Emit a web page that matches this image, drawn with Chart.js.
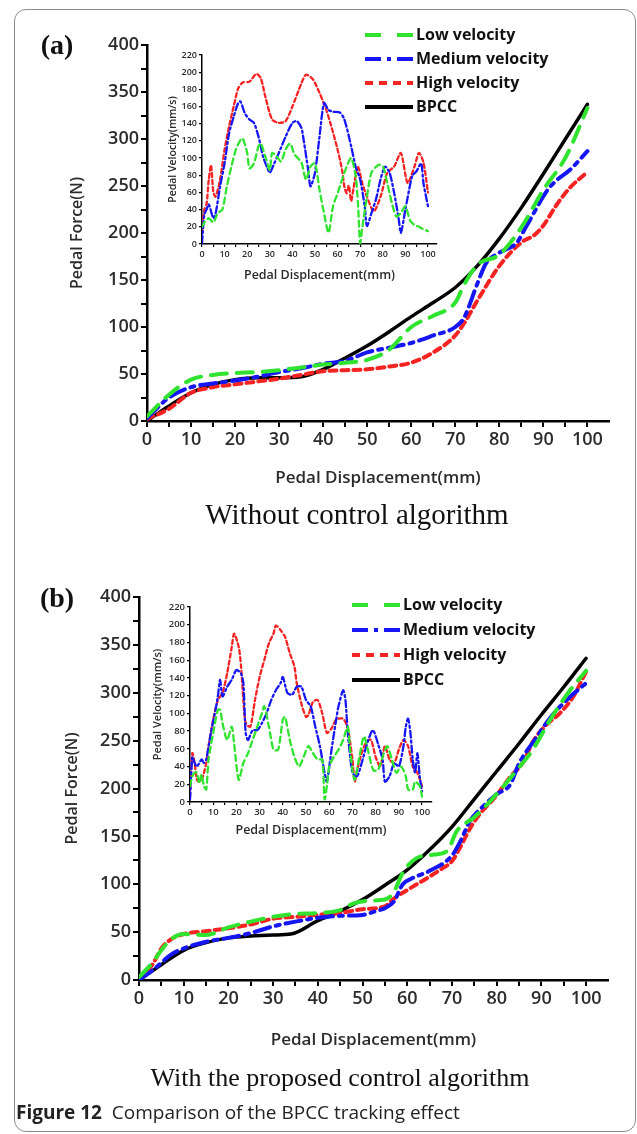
<!DOCTYPE html>
<html>
<head>
<meta charset="utf-8">
<script src="https://cdn.jsdelivr.net/npm/chart.js@4.4.1/dist/chart.umd.min.js"></script>
<style>
    body { margin: 0; background: #fff; }
    #page { position: relative; width: 637px; height: 1134px; overflow: hidden; }
    #frame { position: absolute; left: 14px; top: 9px; width: 620px; height: 1121px; border: 1.5px solid #8c8c8c; border-radius: 12px; }
    canvas { position: absolute; left: 0; top: 0; }
    .txt { position: absolute; transform: translate(-50%, -50%); white-space: nowrap; color: #111; }
    .tag { font: bold 28px "Liberation Serif"; }
    .cap { font: 26px "Liberation Serif"; }
    #fig { position: absolute; left: 16px; top: 1099px; font: 19px "Open Sans"; color: #222; white-space: nowrap; }
</style>
</head>
<body>
<div id="page">
    <div id="frame"></div>
    <canvas id="mainA" width="637" height="1134"></canvas>
    <canvas id="insetA" width="637" height="1134"></canvas>
    <canvas id="mainB" width="637" height="1134"></canvas>
    <canvas id="insetB" width="637" height="1134"></canvas>
    <div class="txt tag" style="left:57px; top:45px;">(a)</div>
    <div class="txt cap" style="left:357px; top:514px; font-size:29px;">Without control algorithm</div>
    <div class="txt tag" style="left:57px; top:598px;">(b)</div>
    <div class="txt cap" style="left:340px; top:1078px;">With the proposed control algorithm</div>
    <div id="fig"><b>Figure 12</b>&nbsp; Comparison of the BPCC tracking effect</div>
</div>
<script>
// 시리즈 이름
const seriesNames = ['Low velocity', 'Medium velocity', 'High velocity', 'BPCC'];

// (a) 제어 없음 - 페달 변위(mm) / 페달 힘(N)
const aLowX  = [0, 5, 10, 15, 20, 25, 30, 35, 40, 45, 50, 55, 60, 65, 70, 72, 75, 80, 85, 90, 95, 100];
const aLowY  = [5, 28, 44, 49, 51, 52, 54, 57, 60, 62, 65, 76, 100, 112, 126, 145, 166, 177, 206, 246, 280, 333];
const aMedX  = [0, 5, 10, 15, 20, 25, 30, 35, 40, 45, 50, 55, 60, 65, 70, 72, 75, 77, 80, 84, 86, 91, 93, 96, 100];
const aMedY  = [3, 25, 36, 40, 43, 47, 52, 56, 61, 64, 73, 78, 83, 91, 100, 110, 146, 168, 179, 190, 206, 246, 256, 267, 287];
const aHighX = [0, 5, 10, 15, 20, 25, 30, 35, 40, 45, 50, 55, 60, 65, 70, 72, 75, 80, 85, 88, 90, 93, 96, 100];
const aHighY = [2, 13, 30, 36, 39, 42, 45, 49, 53, 54, 55, 58, 62, 73, 91, 104, 128, 165, 190, 198, 208, 230, 248, 265];
const aBpccX = [0, 5, 10, 15, 20, 25, 30, 35, 40, 45, 50, 55, 60, 65, 70, 75, 80, 85, 90, 95, 100];
const aBpccY = [0, 16, 30, 39, 44, 46, 46, 47, 55, 67, 80, 95, 111, 126, 142, 165, 194, 227, 263, 300, 337];

// (a) 삽입 그래프 - 페달 속도(mm/s)
const aVelLowX  = [0, 1, 3, 5, 7, 9, 11, 13, 15, 17, 18, 20, 21, 23, 25, 26, 28, 30, 31, 33, 35, 37, 39, 41, 44, 46, 48, 50, 52, 54, 56, 58, 60, 62, 64, 66, 68, 69, 70, 71, 73, 75, 78, 80, 82, 84, 86, 88, 90, 92, 94, 96, 98, 100];
const aVelLowY  = [20, 25, 30, 25, 36, 40, 67, 90, 110, 121, 123, 106, 88, 94, 114, 117, 102, 86, 106, 102, 96, 110, 117, 104, 95, 75, 90, 94, 63, 36, 13, 44, 59, 75, 90, 100, 79, 48, 1, 20, 55, 83, 92, 91, 71, 48, 32, 36, 44, 28, 22, 20, 17, 15];
const aVelMedX  = [0, 1, 2, 3, 5, 6, 8, 10, 12, 14, 16, 17, 19, 21, 23, 25, 27, 29, 30, 32, 34, 37, 40, 42, 44, 45, 47, 48, 50, 52, 54, 56, 58, 61, 63, 66, 68, 70, 72, 73, 75, 77, 79, 81, 83, 85, 87, 88, 90, 93, 95, 97, 98, 100];
const aVelMedY  = [1, 34, 40, 46, 30, 35, 67, 94, 129, 148, 164, 166, 152, 145, 141, 125, 102, 88, 83, 94, 106, 125, 141, 143, 135, 121, 86, 67, 83, 125, 164, 156, 154, 153, 145, 114, 90, 75, 44, 21, 36, 52, 75, 90, 83, 60, 30, 13, 40, 79, 85, 94, 71, 44];
const aVelHighX = [0, 1, 2, 3, 4, 5, 6, 8, 10, 12, 14, 16, 18, 21, 24, 26, 28, 31, 34, 37, 40, 44, 46, 49, 52, 55, 57, 60, 62, 63, 64, 65, 66, 67, 69, 71, 73, 76, 79, 82, 85, 88, 91, 94, 96, 98, 100];
const aVelHighY = [13, 40, 46, 75, 92, 61, 55, 75, 110, 137, 160, 181, 188, 189, 198, 193, 172, 145, 141, 143, 160, 187, 197, 192, 176, 156, 139, 110, 86, 67, 59, 68, 50, 64, 90, 70, 55, 38, 55, 83, 90, 106, 71, 90, 106, 95, 60];

// (b) 제안 제어 알고리즘 - 페달 변위(mm) / 페달 힘(N)
const bLowX  = [0, 3, 5, 7, 10, 15, 20, 25, 30, 35, 40, 45, 48, 52, 55, 57, 59, 62, 66, 69, 71, 75, 78, 82, 85, 88, 92, 96, 100];
const bLowY  = [3, 18, 31, 42, 48, 47, 55, 61, 66, 69, 70, 73, 80, 83, 84, 92, 112, 127, 131, 135, 155, 170, 184, 205, 222, 240, 272, 300, 323];
const bMedX  = [0, 3, 5, 7, 10, 15, 20, 25, 30, 35, 40, 45, 50, 53, 55, 57, 59, 61, 65, 70, 72, 74, 76, 80, 83, 85, 89, 92, 96, 100];
const bMedY  = [0, 10, 18, 26, 33, 40, 44, 49, 56, 61, 65, 67, 68, 72, 75, 82, 100, 106, 114, 130, 146, 166, 177, 194, 204, 226, 254, 274, 294, 310];
const bHighX = [0, 3, 5, 7, 10, 15, 20, 25, 30, 35, 40, 45, 50, 55, 57, 60, 65, 68, 70, 72, 74, 76, 80, 83, 86, 88, 91, 94, 97, 100];
const bHighY = [2, 16, 33, 42, 48, 51, 54, 58, 64, 66, 68, 70, 74, 77, 85, 94, 108, 117, 124, 140, 158, 172, 193, 212, 228, 248, 266, 278, 295, 322];
const bBpccX = [0, 5, 10, 15, 20, 25, 30, 34, 40, 45, 50, 55, 60, 65, 70, 75, 80, 85, 90, 95, 100];
const bBpccY = [0, 16, 31, 39, 44, 46, 47, 48, 62, 72, 84, 99, 115, 136, 160, 189, 218, 247, 277, 306, 336];

// (b) 삽입 그래프 - 페달 속도(mm/s)
const bVelLowX  = [0, 1, 2, 3, 4, 5, 6, 7, 8, 10, 12, 13, 14, 16, 18, 19, 21, 23, 25, 27, 29, 31, 32, 34, 36, 38, 40, 41, 43, 45, 47, 49, 51, 53, 55, 57, 58, 59, 60, 62, 64, 66, 68, 69, 70, 71, 73, 75, 77, 79, 81, 83, 85, 87, 89, 91, 93, 94, 96, 97, 99, 100];
const bVelLowY  = [18, 29, 33, 33, 21, 31, 18, 14, 48, 78, 104, 104, 89, 70, 85, 66, 25, 44, 55, 70, 85, 100, 108, 85, 59, 59, 93, 96, 70, 51, 40, 51, 63, 55, 48, 48, 3, 18, 40, 51, 59, 70, 85, 59, 36, 25, 51, 74, 55, 36, 36, 51, 63, 48, 33, 40, 29, 14, 14, 23, 18, 6];
const bVelMedX  = [0, 1, 2, 3, 5, 6, 7, 9, 11, 12, 13, 14, 16, 18, 20, 22, 23, 24, 25, 27, 29, 31, 33, 35, 37, 39, 40, 42, 44, 46, 48, 50, 52, 54, 56, 58, 59, 61, 63, 64, 66, 67, 68, 70, 72, 74, 76, 78, 79, 81, 83, 84, 86, 88, 90, 92, 93, 94, 95, 96, 97, 98, 99, 100];
const bVelMedY  = [3, 51, 44, 40, 48, 44, 48, 78, 104, 119, 138, 119, 130, 138, 149, 145, 134, 78, 70, 81, 81, 89, 100, 115, 126, 134, 141, 123, 121, 130, 130, 115, 108, 85, 63, 33, 23, 59, 93, 108, 126, 115, 78, 33, 29, 44, 63, 78, 81, 66, 48, 23, 29, 44, 40, 63, 85, 94, 78, 48, 33, 55, 29, 12];
const bVelHighX = [0, 1, 2, 3, 4, 5, 6, 7, 8, 10, 12, 14, 16, 18, 19, 21, 22, 23, 24, 26, 28, 30, 32, 34, 36, 37, 39, 41, 43, 45, 46, 48, 50, 51, 53, 55, 57, 59, 61, 63, 66, 68, 70, 71, 72, 74, 76, 78, 80, 82, 84, 86, 88, 90, 92, 94, 96, 98, 100];
const bVelHighY = [6, 55, 44, 25, 23, 25, 33, 44, 63, 93, 115, 123, 145, 175, 190, 175, 153, 115, 89, 85, 115, 141, 160, 179, 190, 199, 194, 186, 168, 153, 134, 111, 96, 98, 113, 115, 100, 78, 83, 93, 94, 83, 48, 23, 36, 55, 68, 70, 51, 40, 63, 48, 44, 59, 70, 63, 40, 33, 18];

// 시리즈 스타일
const seriesColors = ['#2fe32f', '#1616f4', '#f62323', '#000000'];
const mainDash = [[16, 10], [16, 6, 4, 6], [7, 5], []];
const insetDash = [[6, 4], [7, 3, 2, 3], [4, 3], []];

function toPoints(xs, ys) {
    return xs.map((x, i) => ({ x: x, y: ys[i] }));
}

function makeSets(list, dashes, width, tension) {
    return list.map((pair, i) => ({
        label: seriesNames[i],
        data: toPoints(pair[0], pair[1]),
        borderColor: seriesColors[i],
        borderWidth: i === 3 ? width - 0.5 : width,
        borderDash: dashes[i],
        borderCapStyle: 'round',
        tension: tension,
        cubicInterpolationMode: tension > 0.35 ? 'monotone' : 'default',
        pointRadius: 0,
        fill: false
    }));
}

// 범례 (차트 위에 직접 그림)
const sideLegend = {
    id: 'sideLegend',
    afterDraw(chart, args, o) {
        if (!o || o.x === undefined) return;
        const ctx = chart.ctx;
        chart.data.datasets.forEach((ds, i) => {
            const y = o.y + i * o.gap;
            ctx.save();
            ctx.strokeStyle = ds.borderColor;
            ctx.lineWidth = 4;
            ctx.lineCap = 'butt';
            ctx.setLineDash(o.dash[i]);
            ctx.beginPath();
            ctx.moveTo(o.x, y);
            ctx.lineTo(o.x + o.len, y);
            ctx.stroke();
            ctx.setLineDash([]);
            ctx.fillStyle = '#111';
            ctx.font = 'bold 16px "Open Sans"';
            ctx.textBaseline = 'middle';
            ctx.fillText(ds.label, o.x + o.len + 3, y);
            ctx.restore();
        });
    }
};

// 차트 생성 (차트 영역 위치를 고정)
function buildChart(id, c) {
    const W = 637, H = 1134;
    return new Chart(document.getElementById(id), {
        type: 'line',
        data: { datasets: c.datasets },
        options: {
            responsive: false,
            animation: false,
            events: [],
            layout: {
                autoPadding: false,
                padding: { left: c.padLeft, top: c.area.top, right: W - c.area.right, bottom: H - c.xBottom }
            },
            plugins: {
                legend: { display: false },
                tooltip: { enabled: false },
                sideLegend: c.legend || {}
            },
            scales: {
                x: {
                    type: 'linear',
                    min: 0,
                    max: c.xMax,
                    afterFit: s => { s.height = c.xBottom - c.area.bottom; },
                    border: { color: '#000', width: c.axisWidth },
                    grid: { drawOnChartArea: false, color: '#000', tickColor: '#000', tickLength: c.tickLen, lineWidth: c.axisWidth * 0.8 },
                    ticks: {
                        stepSize: 5,
                        includeBounds: false,
                        autoSkip: false,
                        maxRotation: 0,
                        padding: 2,
                        color: '#2b2b2b',
                        font: { family: 'Open Sans', size: c.tickSize, weight: '600' },
                        callback: v => (v % 10 === 0 && v <= 100) ? v : ''
                    },
                    title: {
                        display: true,
                        text: 'Pedal Displacement(mm)',
                        padding: 0,
                        color: '#2b2b2b',
                        font: { family: 'Open Sans', size: c.xTitleSize, weight: '600' }
                    }
                },
                y: {
                    min: 0,
                    max: c.yMax,
                    afterFit: s => { s.width = c.area.left - c.padLeft; },
                    border: { color: '#000', width: c.axisWidth },
                    grid: { drawOnChartArea: false, color: '#000', tickColor: '#000', tickLength: c.tickLen, lineWidth: c.axisWidth * 0.8 },
                    ticks: {
                        stepSize: c.yStep,
                        autoSkip: false,
                        padding: 2,
                        color: '#2b2b2b',
                        font: { family: 'Open Sans', size: c.tickSize, weight: '600' },
                        callback: v => (v % c.yLabelStep === 0) ? v : ''
                    },
                    title: {
                        display: true,
                        text: c.yTitle,
                        padding: 0,
                        color: '#2b2b2b',
                        font: { family: 'Open Sans', size: c.yTitleSize, weight: '600' }
                    }
                }
            }
        },
        plugins: [sideLegend]
    });
}

document.addEventListener('DOMContentLoaded', function() {
    // (a) 메인
    buildChart('mainA', {
        datasets: makeSets([[aLowX, aLowY], [aMedX, aMedY], [aHighX, aHighY], [aBpccX, aBpccY]], mainDash, 4, 0.4),
        area: { left: 147, top: 45, right: 609, bottom: 421 },
        padLeft: 68, xBottom: 488, xMax: 104.9, yMax: 400, yStep: 25, yLabelStep: 50,
        axisWidth: 2.5, tickLen: 6, tickSize: 18, xTitleSize: 17, yTitleSize: 16,
        yTitle: 'Pedal Force(N)',
        legend: { x: 365, y: 35, gap: 24, len: 48, dash: [[16, 16], [16, 6, 4, 6], [8, 6], []] }
    });
    // (a) 삽입
    buildChart('insetA', {
        datasets: makeSets([[aVelLowX, aVelLowY], [aVelMedX, aVelMedY], [aVelHighX, aVelHighY]], insetDash, 2.3, 0.25),
        area: { left: 202, top: 55, right: 437, bottom: 244 },
        padLeft: 167, xBottom: 283, xMax: 104, yMax: 220, yStep: 20, yLabelStep: 20,
        axisWidth: 1.5, tickLen: 3, tickSize: 9, xTitleSize: 12.5, yTitleSize: 10.5,
        yTitle: 'Pedal Velocity(mm/s)'
    });
    // (b) 메인
    buildChart('mainB', {
        datasets: makeSets([[bLowX, bLowY], [bMedX, bMedY], [bHighX, bHighY], [bBpccX, bBpccY]], mainDash, 4, 0.4),
        area: { left: 139, top: 597, right: 608, bottom: 980 },
        padLeft: 63, xBottom: 1050, xMax: 104.9, yMax: 400, yStep: 25, yLabelStep: 50,
        axisWidth: 2.5, tickLen: 6, tickSize: 18, xTitleSize: 17, yTitleSize: 16,
        yTitle: 'Pedal Force(N)',
        legend: { x: 352, y: 605, gap: 25, len: 48, dash: [[16, 16], [16, 6, 4, 6], [8, 6], []] }
    });
    // (b) 삽입
    buildChart('insetB', {
        datasets: makeSets([[bVelLowX, bVelLowY], [bVelMedX, bVelMedY], [bVelHighX, bVelHighY]], insetDash, 2.3, 0.25),
        area: { left: 190, top: 607, right: 432, bottom: 802 },
        padLeft: 151, xBottom: 838, xMax: 104.3, yMax: 220, yStep: 20, yLabelStep: 20,
        axisWidth: 1.5, tickLen: 3, tickSize: 9.5, xTitleSize: 12.5, yTitleSize: 11,
        yTitle: 'Pedal Velocity(mm/s)'
    });
});
</script>
</body>
</html>
